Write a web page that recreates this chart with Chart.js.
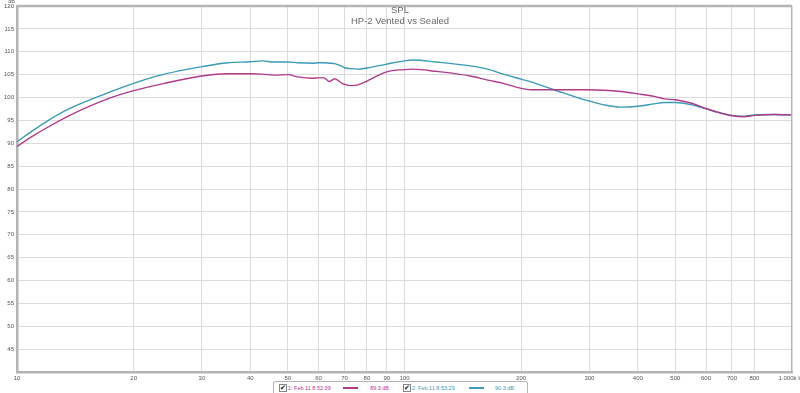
<!DOCTYPE html>
<html>
<head>
<meta charset="utf-8">
<script src="https://cdn.jsdelivr.net/npm/chart.js@4.4.1/dist/chart.umd.min.js"></script>
<style>
  html, body { margin: 0; padding: 0; background: #fff; }
  #wrap { position: relative; width: 800px; height: 393px; }
  #legend {
    position: absolute; left: 273px; top: 381px; width: 253px; height: 14px;
    border: 1px solid #b4b4b4; border-radius: 2px; background: #fff;
    font: 5.5px "Liberation Sans", Arial, sans-serif;
  }
  #legend span { position: absolute; top: 3px; white-space: nowrap; }
  #legend .box {
    top: 2px; width: 6px; height: 6px; border: 1px solid #888; background: #fff;
    font: bold 7px "DejaVu Sans", sans-serif; line-height: 6px; text-align: center; color: #111;
  }
  #legend .swatch { top: 5px; width: 15px; height: 2px; }
</style>
</head>
<body>
<div id="wrap">
  <canvas id="chart" width="800" height="393"></canvas>
  <div id="legend">
    <span class="box" style="left:5px">✔</span>
    <span style="left:14px;color:#b03a8c">1: Feb 11 8:52:39</span>
    <span class="swatch" style="left:69px;background:#b03a8c"></span>
    <span style="left:96px;color:#b03a8c">89.3 dB</span>
    <span class="box" style="left:129px">✔</span>
    <span style="left:138px;color:#3a9ab8">2: Feb 11 8:53:29</span>
    <span class="swatch" style="left:195px;background:#3a9ab8"></span>
    <span style="left:221px;color:#3a9ab8">90.3 dB</span>
  </div>
</div>
<script>
  // Frequencies (Hz) shared by both measurements
  const freqs = [10, 11, 12, 13.6, 17, 20, 24, 30, 35, 40, 43, 46, 50, 53, 58, 60, 62, 64, 66, 69, 70, 72.5, 75.5, 80, 90,
    100, 105, 121, 148, 164, 180, 200, 212, 243, 297, 327, 362, 400, 441, 468, 500, 548, 600, 655, 700, 753, 800, 900, 1000];

  // 1: Feb 11 8:52:39 (magenta)
  const run1Db = [89.3, 91.6, 93.5, 96.0, 99.6, 101.5, 103.1, 104.7, 105.2, 105.2, 105.1, 104.9, 105.0, 104.5, 104.2, 104.3, 104.3,
    103.5, 104.1, 103.1, 102.9, 102.6, 102.7, 103.6, 105.6, 106.1, 106.2, 105.7, 104.7, 103.8, 103.1, 102.0, 101.7, 101.7,
    101.7, 101.6, 101.3, 100.8, 100.25, 99.7, 99.5, 98.8, 97.6, 96.6, 96.0, 95.8, 96.1, 96.3, 96.2];

  // 2: Feb 11 8:53:29 (teal)
  const run2Db = [90.3, 92.8, 94.9, 97.5, 100.9, 103.1, 105.1, 106.75, 107.6, 107.8, 108.0, 107.75, 107.75, 107.6, 107.5, 107.6, 107.6,
    107.5, 107.4, 106.8, 106.5, 106.3, 106.2, 106.45, 107.3, 108.0, 108.2, 107.75, 106.9, 106.2, 105.1, 104.0, 103.4, 101.7,
    99.3, 98.4, 97.9, 98.1, 98.6, 98.9, 98.9, 98.45, 97.5, 96.6, 96.1, 95.9, 96.2, 96.3, 96.2];

  const xTickValues = [10, 20, 30, 40, 50, 60, 70, 80, 90, 100, 200, 300, 400, 500, 600, 700, 800, 1000];
  const xTickLabels = ['10', '20', '30', '40', '50', '60', '70', '80', '90', '100', '200', '300', '400', '500', '600', '700', '800', '1.000k Hz'];
  const yTickValues = [40, 45, 50, 55, 60, 65, 70, 75, 80, 85, 90, 95, 100, 105, 110, 115, 120];
  const yTickLabels = ['', '45', '50', '55', '60', '65', '70', '75', '80', '85', '90', '95', '100', '105', '110', '115', '120'];

  const titleLines = ['SPL', 'HP-2 Vented vs Sealed'];

  const toPoints = (vals) => freqs.map((f, i) => ({ x: f, y: vals[i] }));

  // draws the frame, title and unit label on top of the plot
  const overlay = {
    id: 'overlay',
    afterDatasetsDraw(chart) {
      const ctx = chart.ctx;
      const a = chart.chartArea;
      ctx.save();
      ctx.strokeStyle = '#b4b4b4';
      ctx.lineWidth = 2.5;
      ctx.beginPath();
      ctx.moveTo(a.left, a.top);
      ctx.lineTo(a.right, a.top);
      ctx.stroke();
      ctx.lineWidth = 1;
      ctx.beginPath();
      ctx.moveTo(a.right - 0.5, a.top);
      ctx.lineTo(a.right - 0.5, a.bottom);
      ctx.stroke();

      ctx.fillStyle = '#6a6a6a';
      ctx.textAlign = 'center';
      ctx.textBaseline = 'middle';
      ctx.font = '9.5px "Liberation Sans", Arial, sans-serif';
      ctx.fillText(titleLines[0], 400, 10);
      ctx.fillText(titleLines[1], 400, 21.5);

      ctx.font = '5.5px "Liberation Sans", Arial, sans-serif';
      ctx.textAlign = 'right';
      ctx.fillStyle = '#555';
      ctx.fillText('dB', 15, 1.5);
      ctx.restore();
    }
  };

  new Chart(document.getElementById('chart'), {
    type: 'line',
    data: {
      datasets: [
        {
          label: '1: Feb 11 8:52:39',
          data: toPoints(run1Db),
          borderColor: '#b03a8c',
          borderWidth: 1.4,
          pointRadius: 0,
          cubicInterpolationMode: 'monotone'
        },
        {
          label: '2: Feb 11 8:53:29',
          data: toPoints(run2Db),
          borderColor: '#3a9ab8',
          borderWidth: 1.4,
          pointRadius: 0,
          cubicInterpolationMode: 'monotone'
        }
      ]
    },
    options: {
      responsive: false,
      animation: false,
      layout: { padding: { left: 0, right: 8, top: 6, bottom: 0 } },
      plugins: {
        legend: { display: false },
        title: { display: false },
        tooltip: { enabled: false }
      },
      scales: {
        x: {
          type: 'logarithmic',
          min: 10,
          max: 1000,
          afterBuildTicks: (scale) => { scale.ticks = xTickValues.map(v => ({ value: v })); },
          afterFit: (scale) => { scale.height = 21; scale.paddingLeft = 0; scale.paddingRight = 0; },
          ticks: {
            autoSkip: false,
            maxRotation: 0,
            padding: 3,
            color: '#555',
            font: { size: 6, family: '"Liberation Sans", Arial, sans-serif' },
            callback: (v, i) => xTickLabels[i]
          },
          grid: { color: '#dcdcdc', lineWidth: 1, drawTicks: false },
          border: { color: '#b4b4b4', width: 2.5 }
        },
        y: {
          min: 40,
          max: 120,
          afterBuildTicks: (scale) => { scale.ticks = yTickValues.map(v => ({ value: v })); },
          afterFit: (scale) => { scale.width = 17; scale.paddingTop = 0; scale.paddingBottom = 0; },
          ticks: {
            padding: 3,
            color: '#555',
            font: { size: 6, family: '"Liberation Sans", Arial, sans-serif' },
            callback: (v, i) => yTickLabels[i]
          },
          grid: { color: '#dcdcdc', lineWidth: 1, drawTicks: false },
          border: { color: '#b4b4b4', width: 2.5 }
        }
      }
    },
    plugins: [overlay]
  });
</script>
</body>
</html>
